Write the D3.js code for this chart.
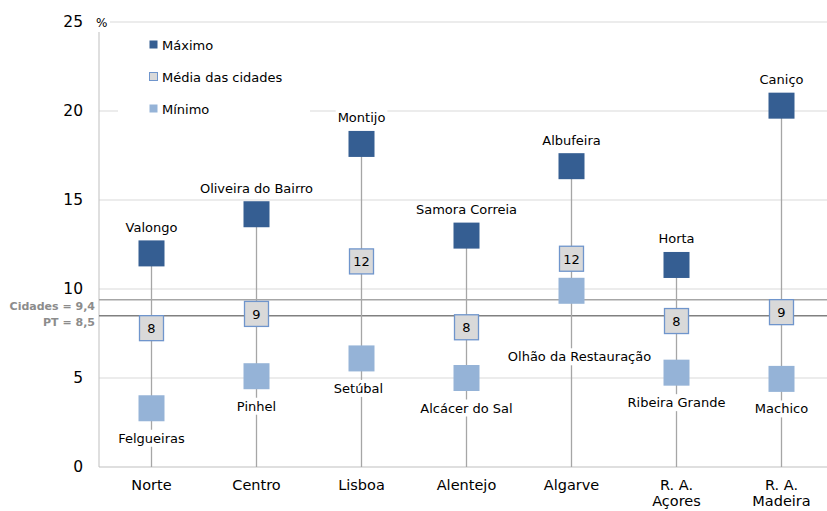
<!DOCTYPE html>
<html><head><meta charset="utf-8">
<script src="https://cdn.jsdelivr.net/npm/d3@7"></script>
<style>body{margin:0;background:#fff}svg{display:block}text{font-family:"DejaVu Sans",sans-serif}</style>
</head><body>
<svg id="c" width="827" height="511"></svg>
<script>
const regions = ["Norte","Centro","Lisboa","Alentejo","Algarve","R. A.|Açores","R. A.|Madeira"];
const maxVals = [12.0, 14.2, 18.15, 13.0, 16.9, 11.35, 20.3];
const meanVals = [7.8, 8.6, 11.55, 7.85, 11.7, 8.2, 8.7];
const minVals = [3.3, 5.1, 6.1, 5.0, 9.9, 5.3, 4.95];
const maxCities = ["Valongo","Oliveira do Bairro","Montijo","Samora Correia","Albufeira","Horta","Caniço"];
const minCities = ["Felgueiras","Pinhel","Setúbal","Alcácer do Sal","Olhão da Restauração","Ribeira Grande","Machico"];
const yTicks = [0,5,10,15,20,25];
const refLines = [{label:"Cidades = 9,4", value:9.4}, {label:"PT = 8,5", value:8.5}];
const legendItems = ["Máximo","Média das cidades","Mínimo"];

const svg = d3.select("#c");
const L = 99, R = 834, T = 22, B = 467;
const x = d3.scaleBand().domain(regions).range([L, R]);
const y = d3.scaleLinear().domain([0,25]).range([B, T]);
const cx = d => x(d) + x.bandwidth()/2;

const C = {max:"#355e92", min:"#95b3d7", meanFill:"#d9d9d9", meanStroke:"#6f95cc"};

// gridlines
svg.append("g").selectAll("line").data(yTicks.filter(v=>v>0)).join("line")
  .attr("x1", L).attr("x2", R).attr("y1", d=>y(d)).attr("y2", d=>y(d))
  .attr("stroke", "#d9d9d9").attr("stroke-width", 1);

// y axis
const ya = svg.append("g").attr("transform", `translate(${L},0)`)
  .call(d3.axisLeft(y).tickValues(yTicks).tickSize(0).tickPadding(16));
ya.select(".domain").remove();
ya.selectAll("text").attr("font-size", 15.5).attr("fill", "#000").attr("font-family","DejaVu Sans");
svg.append("line").attr("x1", L).attr("x2", L).attr("y1", 32).attr("y2", B).attr("stroke", "#bfbfbf");

// x axis
svg.append("line").attr("x1", L).attr("x2", R).attr("y1", B).attr("y2", B).attr("stroke", "#bfbfbf");
const xl = svg.append("g").selectAll("text").data(regions).join("text")
  .attr("x", d=>cx(d)).attr("y", 490).attr("text-anchor","middle").attr("font-size", 14.5).attr("fill","#000");
xl.each(function(d){
  const parts = d.split("|");
  parts.forEach((p,i)=>d3.select(this).append("tspan").attr("x", cx(d)).attr("dy", i===0?0:16).text(p));
});

// % label with white bg
svg.append("rect").attr("x", 92).attr("y", 14).attr("width", 18).attr("height", 16).attr("fill","#fff");
svg.append("text").attr("x", 96).attr("y", 27).attr("font-size", 12).text("%");

// reference lines
refLines.forEach((r,i)=>{
  svg.append("line").attr("x1", L).attr("x2", R).attr("y1", y(r.value)).attr("y2", y(r.value))
    .attr("stroke", i===0 ? "#a6a6a6" : "#808080").attr("stroke-width", 1.6);
  svg.append("text").attr("x", 95).attr("y", y(r.value) + 10).attr("text-anchor","end")
    .attr("font-size", 11).attr("font-weight","bold").attr("fill","#8c8c8c").text(r.label);
});

// vertical lines
svg.append("g").selectAll("line").data(regions).join("line")
  .attr("x1", d=>cx(d)).attr("x2", d=>cx(d)).attr("y1", (d,i)=>y(maxVals[i])).attr("y2", B)
  .attr("stroke", "#a6a6a6").attr("stroke-width", 1.3);

const S = 26;
// max markers
svg.append("g").selectAll("rect").data(regions).join("rect")
  .attr("x", d=>cx(d)-S/2).attr("y", (d,i)=>y(maxVals[i])-S/2).attr("width", S).attr("height", S).attr("fill", C.max);
// min markers
svg.append("g").selectAll("rect").data(regions).join("rect")
  .attr("x", d=>cx(d)-S/2).attr("y", (d,i)=>y(minVals[i])-S/2).attr("width", S).attr("height", S).attr("fill", C.min);
// mean markers
const mg = svg.append("g").selectAll("g").data(regions).join("g")
  .attr("transform", (d,i)=>`translate(${cx(d)},${y(meanVals[i])})`);
mg.append("rect").attr("x", -12).attr("y", -12.5).attr("width", 24).attr("height", 25)
  .attr("fill", C.meanFill).attr("stroke", C.meanStroke).attr("stroke-width", 1.3);
mg.append("text").attr("y", 5).attr("text-anchor","middle").attr("font-size", 13).attr("fill","#000")
  .text((d,i)=>d3.format(".0f")(meanVals[i]));

// labels with white background
function label(xp, yp, txt){
  const t = svg.append("text").attr("x", xp).attr("y", yp).attr("text-anchor","middle")
    .attr("dominant-baseline","central").attr("font-size", 13).attr("fill","#000").text(txt);
  const bb = t.node().getBBox();
  svg.insert("rect", () => t.node()).attr("x", bb.x-2).attr("y", bb.y-1).attr("width", bb.width+4).attr("height", bb.height+2).attr("fill","#fff");
}
regions.forEach((d,i)=>{
  label(cx(d), y(maxVals[i]) - 26, maxCities[i]);
  const off = (i === 4) ? 66 : 30;
  const dx = (i === 4) ? 8 : (i === 2 ? -3 : 0);
  label(cx(d) + dx, y(minVals[i]) + off, minCities[i]);
});

// legend
svg.append("rect").attr("x", 118).attr("y", 30).attr("width", 192).attr("height", 95).attr("fill","#fff");
const lc = [C.max, C.meanFill, C.min];
legendItems.forEach((t,i)=>{
  const yy = 45 + i*32;
  svg.append("rect").attr("x", 149.5).attr("y", yy-4.5).attr("width", 8).attr("height", 8)
    .attr("fill", lc[i]).attr("stroke", i===1 ? C.meanStroke : "none").attr("stroke-width", 1);
  svg.append("text").attr("x", 162).attr("y", yy).attr("dominant-baseline","central").attr("font-size", 13).text(t);
});
</script>
</body></html>
